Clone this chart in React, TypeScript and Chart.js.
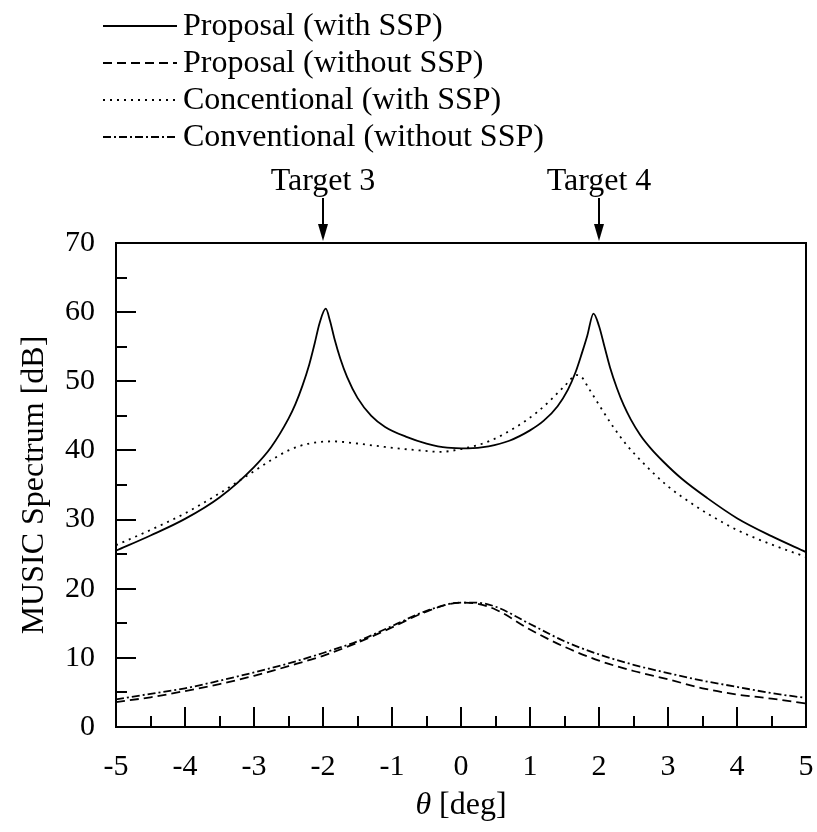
import React, { useEffect, useRef } from "react";
import { Chart, registerables } from "chart.js";

Chart.register(...registerables);

// Angle axis (deg) and spectrum values (dB) for each method
const proposalSspX = [-5, -4.5, -4, -3.5, -3, -2.75, -2.5, -2.4, -2.3, -2.2, -2.12, -2.05, -1.96, -1.9, -1.83, -1.75, -1.65, -1.5, -1.3, -1.1, -0.8, -0.5, -0.2, 0.1, 0.4, 0.7, 1.0, 1.2, 1.4, 1.55, 1.66, 1.75, 1.83, 1.92, 2.0, 2.08, 2.16, 2.26, 2.36, 2.46, 2.6, 2.75, 2.93, 3.2, 3.57, 4.0, 4.5, 5.0];
const proposalSspY = [25.5, 27.7, 30.1, 33.2, 37.6, 40.5, 44.6, 46.7, 49.3, 52.4, 55.5, 58.4, 60.5, 58.8, 56.0, 53.3, 50.6, 47.6, 45.0, 43.4, 42.0, 41.0, 40.4, 40.3, 40.6, 41.4, 42.9, 44.3, 46.4, 48.8, 51.3, 54.0, 56.6, 59.8, 58.0, 55.0, 52.0, 49.0, 46.5, 44.5, 42.2, 40.3, 38.4, 35.9, 33.1, 30.2, 27.6, 25.3];

const proposalNoSspX = [-5, -4.5, -4, -3.5, -3, -2.5, -2, -1.5, -1, -0.5, 0, 0.2, 0.5, 1, 1.5, 2, 2.5, 3, 3.5, 4, 4.5, 5];
const proposalNoSspY = [3.6, 4.3, 5.2, 6.2, 7.4, 8.8, 10.3, 12.2, 14.4, 16.7, 18.0, 17.9, 17.0, 14.1, 11.6, 9.6, 8.1, 6.9, 5.6, 4.7, 4.1, 3.4];

const conventionalSspX = [-5, -4.5, -4, -3.5, -3, -2.75, -2.5, -2.2, -1.85, -1.5, -1.1, -0.6, -0.3, 0.0, 0.4, 0.8, 1.1, 1.3, 1.5, 1.68, 1.75, 1.85, 2.0, 2.2, 2.4, 2.6, 2.8, 3.0, 3.2, 3.6, 4.0, 4.5, 5.0];
const conventionalSspY = [26.3, 28.5, 30.9, 33.8, 37.0, 38.6, 40.0, 41.0, 41.3, 41.0, 40.5, 40.0, 39.8, 40.2, 41.3, 43.4, 45.5, 47.3, 49.3, 50.9, 50.6, 49.0, 46.6, 43.5, 40.8, 38.6, 36.6, 34.8, 33.3, 30.7, 28.5, 26.4, 24.6];

const conventionalNoSspX = [-5, -4.5, -4, -3.5, -3, -2.5, -2, -1.5, -1, -0.5, 0, 0.2, 0.5, 1, 1.5, 2, 2.5, 3, 3.5, 4, 4.5, 5];
const conventionalNoSspY = [4.0, 4.8, 5.6, 6.7, 7.9, 9.2, 10.7, 12.4, 14.6, 16.8, 18.0, 18.0, 17.4, 14.9, 12.4, 10.5, 9.0, 7.8, 6.7, 5.8, 4.9, 4.2];

const seriesLabels = [
  "Proposal (with SSP)",
  "Proposal (without SSP)",
  "Concentional (with SSP)",
  "Conventional (without SSP)",
];
const seriesDashes = [[], [9, 5], [2, 5], [8, 3, 2, 3]];

const targetLabels = ["Target 3", "Target 4"];
const targetAngles = [-2, 2];

const xTicks = [-5, -4, -3, -2, -1, 0, 1, 2, 3, 4, 5];
const yTicks = [0, 10, 20, 30, 40, 50, 60, 70];

const SERIF = '"Liberation Serif", "Times New Roman", serif';
const TEXT_SIZE = 32;

const zip = (xs: number[], ys: number[]) => xs.map((x, i) => ({ x, y: ys[i] }));

const decorations = {
  id: "decorations",
  afterDraw(chart: any) {
    const { ctx, chartArea: a, scales } = chart;
    const xs = scales.x;
    const ys = scales.y;
    ctx.save();
    ctx.strokeStyle = "#000";
    ctx.fillStyle = "#000";

    // plot frame
    ctx.lineWidth = 2;
    ctx.setLineDash([]);
    ctx.strokeRect(a.left, a.top, a.right - a.left, a.bottom - a.top);

    // inward tick marks, major and minor
    ctx.lineWidth = 2;
    ctx.beginPath();
    for (let v = -5; v <= 5.001; v += 0.5) {
      const px = Math.round(xs.getPixelForValue(v));
      const len = Math.abs(v - Math.round(v)) < 1e-6 ? 20 : 11;
      ctx.moveTo(px, a.bottom);
      ctx.lineTo(px, a.bottom - len);
    }
    for (let v = 0; v <= 70.001; v += 5) {
      const py = Math.round(ys.getPixelForValue(v));
      const len = v % 10 === 0 ? 20 : 11;
      ctx.moveTo(a.left, py);
      ctx.lineTo(a.left + len, py);
    }
    ctx.stroke();

    // legend
    ctx.font = `${TEXT_SIZE}px ${SERIF}`;
    ctx.textBaseline = "middle";
    ctx.textAlign = "left";
    seriesLabels.forEach((label, i) => {
      const cy = 26 + i * 37;
      ctx.lineWidth = 1.8;
      ctx.setLineDash(seriesDashes[i]);
      ctx.beginPath();
      ctx.moveTo(103, cy);
      ctx.lineTo(177, cy);
      ctx.stroke();
      ctx.setLineDash([]);
      ctx.fillText(label, 183, cy + 1);
    });

    // target markers above the plot
    targetLabels.forEach((label, i) => {
      const px = xs.getPixelForValue(targetAngles[i]);
      ctx.textAlign = "center";
      ctx.fillText(label, px, 182);
      ctx.lineWidth = 2;
      ctx.beginPath();
      ctx.moveTo(px, 198);
      ctx.lineTo(px, 228);
      ctx.stroke();
      ctx.beginPath();
      ctx.moveTo(px - 5, 224);
      ctx.lineTo(px + 5, 224);
      ctx.lineTo(px, 241);
      ctx.closePath();
      ctx.fill();
    });

    // axis titles
    ctx.textAlign = "center";
    ctx.save();
    ctx.translate(35, (a.top + a.bottom) / 2);
    ctx.rotate(-Math.PI / 2);
    ctx.fillText("MUSIC Spectrum [dB]", 0, 0);
    ctx.restore();

    const cx = (a.left + a.right) / 2;
    ctx.font = `italic ${TEXT_SIZE}px ${SERIF}`;
    const thetaW = ctx.measureText("θ").width;
    ctx.font = `${TEXT_SIZE}px ${SERIF}`;
    const restW = ctx.measureText(" [deg]").width;
    const startX = cx - (thetaW + restW) / 2;
    ctx.textAlign = "left";
    ctx.font = `italic ${TEXT_SIZE}px ${SERIF}`;
    ctx.fillText("θ", startX, 806);
    ctx.font = `${TEXT_SIZE}px ${SERIF}`;
    ctx.fillText(" [deg]", startX + thetaW, 806);

    ctx.restore();
  },
};

export default function App() {
  const canvasRef = useRef<HTMLCanvasElement | null>(null);

  useEffect(() => {
    if (!canvasRef.current) return;
    const base = {
      borderColor: "#000",
      borderWidth: 1.8,
      pointRadius: 0,
      fill: false,
      cubicInterpolationMode: "monotone" as const,
    };
    const chart = new Chart(canvasRef.current, {
      type: "line",
      data: {
        datasets: [
          { ...base, label: seriesLabels[0], data: zip(proposalSspX, proposalSspY), borderDash: seriesDashes[0] },
          { ...base, label: seriesLabels[1], data: zip(proposalNoSspX, proposalNoSspY), borderDash: seriesDashes[1] },
          { ...base, label: seriesLabels[2], data: zip(conventionalSspX, conventionalSspY), borderDash: seriesDashes[2] },
          { ...base, label: seriesLabels[3], data: zip(conventionalNoSspX, conventionalNoSspY), borderDash: seriesDashes[3] },
        ],
      },
      options: {
        animation: false,
        responsive: true,
        maintainAspectRatio: false,
        layout: { padding: { top: 243, right: 11, left: 0, bottom: 0 } },
        plugins: { legend: { display: false }, tooltip: { enabled: false } },
        scales: {
          x: {
            type: "linear",
            min: -5,
            max: 5,
            grid: { display: false, drawTicks: false },
            border: { display: false },
            afterBuildTicks: (s: any) => {
              s.ticks = xTicks.map((v) => ({ value: v }));
            },
            afterFit: (s: any) => {
              s.height = 105;
              s.paddingLeft = 0;
              s.paddingRight = 0;
            },
            ticks: {
              color: "#000",
              padding: 22,
              maxRotation: 0,
              font: { family: SERIF, size: 30 },
              callback: (v: any) => String(v),
            },
          },
          y: {
            type: "linear",
            min: 0,
            max: 70,
            grid: { display: false, drawTicks: false },
            border: { display: false },
            afterBuildTicks: (s: any) => {
              s.ticks = yTicks.map((v) => ({ value: v }));
            },
            afterFit: (s: any) => {
              s.width = 116;
              s.paddingTop = 0;
              s.paddingBottom = 0;
            },
            ticks: {
              color: "#000",
              padding: 21,
              font: { family: SERIF, size: 30 },
              callback: (v: any) => String(v),
            },
          },
        },
      },
      plugins: [decorations],
    });
    return () => chart.destroy();
  }, []);

  return (
    <div style={{ position: "absolute", left: 0, top: 0, width: 817, height: 832, background: "#fff" }}>
      <canvas ref={canvasRef} />
    </div>
  );
}
